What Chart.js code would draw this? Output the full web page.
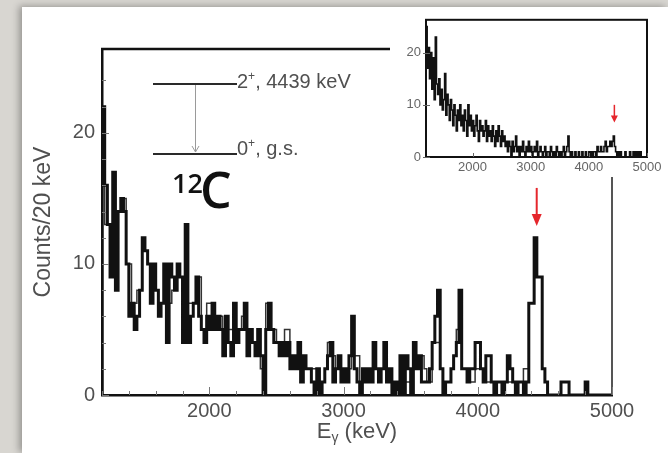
<!DOCTYPE html>
<html>
<head>
<meta charset="utf-8">
<script src="https://cdn.jsdelivr.net/npm/chart.js@4.4.0/dist/chart.umd.min.js"></script>
<style>
  html, body { margin: 0; padding: 0; }
  body { width: 668px; height: 453px; background: #d8d6d1; position: relative; overflow: hidden; }
  #slide { position: absolute; left: 22px; top: 7px; right: 0; bottom: 0; background: #fff;
           box-shadow: -3px -1px 7px rgba(0, 0, 0, 0.3); }
  #main { position: absolute; left: 0; top: 0; filter: blur(0.45px); }
  #inset { position: absolute; left: 390px; top: 7px; background: #fff; filter: blur(0.45px); }
  #nucleus { position: absolute; left: 0; top: 0; }
</style>
</head>
<body>
<div id="slide"></div>
<canvas id="main" width="668" height="453"></canvas>
<canvas id="inset" width="278" height="170"></canvas>
<svg id="nucleus" width="668" height="453">
  <g font-family="'Open Sans', sans-serif" font-weight="600" fill="#111">
    <text x="172" y="193" font-size="27">12</text>
    <text x="200" y="208" font-size="50">C</text>
  </g>
</svg>
<script>
// 20 keV bins from 1200 keV
const BIN_START = 1200;
const BIN_WIDTH = 20;

// gated spectrum (thick line)
const blackCounts = [
  22, 16, 13, 9, 17, 8, 14, 15, 14, 10,
  6, 7, 5, 6, 8, 12, 11, 10, 7, 10,
  8, 6, 7, 10, 4, 10, 9, 8, 10, 9,
  4, 13, 4, 6, 7, 9, 6, 5, 4, 6,
  5, 7, 5, 6, 5, 3, 6, 4, 3, 7,
  4, 5, 5, 7, 3, 5, 4, 3, 5, 3,
  0, 5, 7, 5, 4, 4, 3, 4, 3, 4,
  2, 3, 2, 4, 1, 3, 2, 2, 1, 0,
  2, 0, 1, 2, 3, 4, 1, 2, 3, 1,
  2, 1, 3, 6, 2, 1, 0, 2, 1, 2,
  1, 4, 2, 1, 2, 4, 1, 2, 0, 1,
  0, 3, 0, 3, 2, 0, 4, 2, 3, 1,
  1, 1, 2, 4, 6, 8, 2, 0, 1, 1,
  2, 3, 4, 8, 2, 2, 1, 2, 2, 4,
  4, 2, 1, 3, 3, 1, 0, 1, 1, 0,
  1, 3, 2, 1, 0, 1, 1, 0, 1, 7,
  7, 12, 9, 9, 2, 1, 0, 0, 0, 0,
  0, 1, 1, 1, 0, 0, 0, 0, 0, 0,
  1, 0, 0, 0, 0, 0, 0, 0, 0, 0
];

// second spectrum (thin outline)
const openCounts = [
  16, 13, 13, 13, 13, 14, 14, 15, 15, 10,
  10, 7, 7, 8, 8, 11, 11, 10, 10, 9,
  8, 7, 7, 10, 7, 7, 8, 9, 9, 9,
  8, 8, 7, 7, 7, 9, 9, 5, 5, 7,
  7, 7, 6, 6, 6, 5, 5, 5, 5, 5,
  5, 5, 6, 5, 5, 5, 4, 4, 3, 2,
  2, 7, 7, 5, 5, 4, 4, 4, 5, 5,
  3, 2, 2, 2, 3, 2, 2, 2, 2, 2,
  2, 1, 1, 2, 4, 4, 3, 2, 2, 2,
  2, 2, 2, 3, 3, 3, 1, 1, 2, 2,
  2, 2, 2, 2, 2, 2, 2, 1, 1, 0,
  0, 1, 1, 1, 1, 2, 3, 3, 3, 3,
  2, 1, 1, 4, 4, 4, 2, 1, 1, 1,
  2, 3, 5, 5, 2, 2, 2, 1, 1, 2,
  2, 2, 2, 1, 1, 1, 1, 1, 1, 1,
  1, 1, 1, 1, 1, 1, 1, 2, 2, 7,
  7, 9, 9, 9, 2, 1, 0, 0, 0, 0,
  0, 0, 0, 0, 0, 0, 0, 0, 0, 0,
  0, 0, 0, 0, 0, 0, 0, 0, 0, 0
];

// ungated spectrum shown in the inset
const insetCounts = [
  25, 17, 21, 15, 20, 13, 19, 11, 23, 14,
  12, 15, 10, 13, 9, 11, 16, 8, 12, 10,
  7, 11, 9, 6, 10, 8, 5, 9, 7, 10,
  6, 8, 5, 9, 7, 4, 10, 6, 8, 5,
  7, 4, 6, 8, 5, 3, 7, 5, 6, 4,
  5, 7, 3, 6, 4, 5, 3, 6, 4, 2,
  5, 3, 6, 4, 2, 5, 3, 4, 2, 3,
  1, 3, 2, 0, 3, 1, 2, 4, 1, 2,
  0, 2, 1, 3, 1, 0, 2, 1, 3, 1,
  2, 0, 1, 2, 1, 3, 0, 1, 2, 1,
  0, 1, 2, 0, 1, 1, 0, 2, 1, 0,
  1, 0, 2, 1, 0, 1, 0, 1, 2, 0,
  1, 2, 4, 1, 0, 1, 0, 0, 1, 0,
  0, 1, 0, 0, 1, 0, 0, 1, 0, 0,
  1, 0, 1, 0, 1, 1, 0, 2, 1, 1,
  2, 1, 1, 2, 3, 1, 2, 2, 3, 2,
  3, 4, 2, 1, 0, 1, 0, 1, 0, 0,
  0, 1, 0, 0, 0, 1, 0, 0, 1, 0,
  1, 0, 1, 0, 1, 0, 0, 0, 0, 0
];

const xTickLabels = [2000, 3000, 4000, 5000];
const yTickLabels = [0, 10, 20];
const insetYTickLabels = [0, 10, 20];
const PEAK_ENERGY = 4439;

const AXIS_FONT = "'Liberation Sans', Arial, Helvetica, sans-serif";
const TEXT_GREY = '#505050';

// bin contents -> step points; the leading zero draws the left wall,
// the extra trailing point closes the last bin
function histPoints(counts) {
  const pts = [{ x: BIN_START, y: 0 }];
  counts.forEach((c, i) => pts.push({ x: BIN_START + i * BIN_WIDTH, y: c }));
  pts.push({ x: BIN_START + counts.length * BIN_WIDTH, y: counts[counts.length - 1] });
  return pts;
}

function drawArrow(ctx, x, y0, y1, half, head, width) {
  ctx.strokeStyle = '#e5262c';
  ctx.fillStyle = '#e5262c';
  ctx.lineWidth = width;
  ctx.beginPath();
  ctx.moveTo(x, y0);
  ctx.lineTo(x, y1 - head + 1);
  ctx.stroke();
  ctx.beginPath();
  ctx.moveTo(x - half, y1 - head);
  ctx.lineTo(x + half, y1 - head);
  ctx.lineTo(x, y1);
  ctx.closePath();
  ctx.fill();
}

// level label with a superscript parity sign
function drawLevel(ctx, x, y, spin, rest) {
  ctx.font = '20px ' + AXIS_FONT;
  ctx.fillStyle = TEXT_GREY;
  ctx.textBaseline = 'alphabetic';
  ctx.textAlign = 'left';
  ctx.fillText(spin, x, y);
  let cx = x + ctx.measureText(spin).width;
  ctx.font = '12px ' + AXIS_FONT;
  ctx.fillText('+', cx, y - 8);
  cx += ctx.measureText('+').width;
  ctx.font = '20px ' + AXIS_FONT;
  ctx.fillText(rest, cx, y);
}

const mainDecor = {
  id: 'mainDecor',
  afterDraw(chart) {
    const ctx = chart.ctx;
    const { left, right, top, bottom } = chart.chartArea;
    const xs = chart.scales.x;
    const ys = chart.scales.y;
    ctx.save();

    // top and right frame
    ctx.strokeStyle = '#111';
    ctx.lineWidth = 2.5;
    ctx.beginPath();
    ctx.moveTo(left - 1, top);
    ctx.lineTo(right, top);
    ctx.stroke();
    ctx.strokeStyle = '#555';
    ctx.lineWidth = 2;
    ctx.beginPath();
    ctx.moveTo(right, top);
    ctx.lineTo(right, bottom);
    ctx.stroke();

    // inward tick marks
    ctx.strokeStyle = '#777';
    ctx.lineWidth = 1;
    ys.ticks.forEach(t => {
      if (t.value % 2 !== 0) return;
      const y = Math.round(ys.getPixelForValue(t.value)) + 0.5;
      const len = t.value % 10 === 0 ? 7 : 4;
      ctx.beginPath();
      ctx.moveTo(left, y);
      ctx.lineTo(left + len, y);
      ctx.stroke();
    });
    xs.ticks.forEach(t => {
      if (t.value % 200 !== 0) return;
      const x = Math.round(xs.getPixelForValue(t.value)) + 0.5;
      const len = t.value % 1000 === 0 ? 8 : 4;
      ctx.beginPath();
      ctx.moveTo(x, bottom);
      ctx.lineTo(x, bottom - len);
      ctx.stroke();
    });

    // axis titles
    ctx.fillStyle = TEXT_GREY;
    ctx.save();
    ctx.translate(50, (top + bottom) / 2);
    ctx.rotate(-Math.PI / 2);
    ctx.font = '23px ' + AXIS_FONT;
    ctx.textAlign = 'center';
    ctx.textBaseline = 'alphabetic';
    ctx.fillText('Counts/20 keV', 0, 0);
    ctx.restore();

    ctx.textAlign = 'left';
    ctx.textBaseline = 'alphabetic';
    ctx.font = '22px ' + AXIS_FONT;
    const wE = ctx.measureText('E').width;
    const wRest = ctx.measureText(' (keV)').width;
    ctx.font = '14px ' + AXIS_FONT;
    const wG = ctx.measureText('γ').width;
    let tx = (left + right) / 2 - (wE + wG + wRest) / 2;
    const ty = 438;
    ctx.font = '22px ' + AXIS_FONT;
    ctx.fillText('E', tx, ty);
    tx += wE;
    ctx.font = '14px ' + AXIS_FONT;
    ctx.fillText('γ', tx, ty + 4);
    tx += wG;
    ctx.font = '22px ' + AXIS_FONT;
    ctx.fillText(' (keV)', tx, ty);

    // level scheme: 2+ -> 0+ transition
    ctx.strokeStyle = '#2a2a2a';
    ctx.lineWidth = 2;
    ctx.beginPath();
    ctx.moveTo(153, 84); ctx.lineTo(237, 84);
    ctx.moveTo(153, 154); ctx.lineTo(237, 154);
    ctx.stroke();
    ctx.strokeStyle = '#9a9a9a';
    ctx.lineWidth = 1;
    ctx.beginPath();
    ctx.moveTo(195.5, 85); ctx.lineTo(195.5, 152);
    ctx.moveTo(192, 146); ctx.lineTo(195.5, 152); ctx.lineTo(199, 146);
    ctx.stroke();
    drawLevel(ctx, 237, 88, '2', ', 4439 keV');
    drawLevel(ctx, 237, 155, '0', ', g.s.');

    // marker above the 4439 keV peak
    const ax = xs.getPixelForValue(PEAK_ENERGY);
    drawArrow(ctx, ax, ys.getPixelForValue(15.8), ys.getPixelForValue(12.9), 5, 12, 2);

    ctx.restore();
  }
};

const insetDecor = {
  id: 'insetDecor',
  afterDraw(chart) {
    const ctx = chart.ctx;
    const { left, right, top, bottom } = chart.chartArea;
    const xs = chart.scales.x;
    const ys = chart.scales.y;
    ctx.save();
    ctx.strokeStyle = '#111';
    ctx.lineWidth = 2;
    ctx.strokeRect(left, top, right - left, bottom - top);
    ctx.strokeStyle = '#666';
    ctx.lineWidth = 1;
    insetYTickLabels.forEach(v => {
      const y = Math.round(ys.getPixelForValue(v)) + 0.5;
      ctx.beginPath();
      ctx.moveTo(left - 3, y);
      ctx.lineTo(left + 4, y);
      ctx.stroke();
    });
    xTickLabels.forEach(v => {
      const x = Math.round(xs.getPixelForValue(v)) + 0.5;
      ctx.beginPath();
      ctx.moveTo(x, bottom);
      ctx.lineTo(x, bottom - 4);
      ctx.stroke();
    });
    const ax = xs.getPixelForValue(PEAK_ENERGY);
    drawArrow(ctx, ax, ys.getPixelForValue(10), ys.getPixelForValue(6.6), 3.5, 7, 1.5);
    ctx.restore();
  }
};

// stepped: 'before' holds each bin value until the next bin edge
new Chart(document.getElementById('main'), {
  type: 'line',
  data: {
    datasets: [
      {
        data: histPoints(blackCounts),
        stepped: 'before',
        borderColor: '#111',
        borderWidth: 3,
        pointRadius: 0,
        fill: false
      },
      {
        data: histPoints(openCounts),
        stepped: 'before',
        borderColor: '#333',
        borderWidth: 1.5,
        pointRadius: 0,
        fill: false
      }
    ]
  },
  options: {
    responsive: false,
    animation: false,
    events: [],
    layout: { padding: { left: 22, top: 49, right: 56, bottom: 0 } },
    plugins: { legend: { display: false }, tooltip: { enabled: false } },
    scales: {
      x: {
        type: 'linear',
        min: BIN_START,
        max: 5000,
        afterFit(scale) { scale.height = 58; },
        grid: { display: false, drawTicks: false },
        border: { display: true, color: '#111', width: 2.5 },
        ticks: {
          stepSize: 200,
          autoSkip: false,
          maxRotation: 0,
          minRotation: 0,
          padding: 4,
          color: TEXT_GREY,
          font: { family: AXIS_FONT, size: 20 },
          callback: v => (xTickLabels.includes(v) ? String(v) : '')
        }
      },
      y: {
        min: 0,
        max: 26.4,
        afterFit(scale) { scale.width = 80; },
        grid: { display: false, drawTicks: false },
        border: { display: true, color: '#111', width: 2.5 },
        ticks: {
          stepSize: 2,
          autoSkip: false,
          padding: 7,
          color: TEXT_GREY,
          font: { family: AXIS_FONT, size: 20 },
          callback: v => (yTickLabels.includes(v) ? String(v) : '')
        }
      }
    }
  },
  plugins: [mainDecor]
});

new Chart(document.getElementById('inset'), {
  type: 'line',
  data: {
    datasets: [{
      data: histPoints(insetCounts),
      stepped: 'before',
      borderColor: '#111',
      borderWidth: 1.6,
      pointRadius: 0,
      fill: false
    }]
  },
  options: {
    responsive: false,
    animation: false,
    events: [],
    layout: { padding: { left: 0, top: 8, right: 21, bottom: 0 } },
    plugins: { legend: { display: false }, tooltip: { enabled: false } },
    scales: {
      x: {
        type: 'linear',
        min: BIN_START,
        max: 5000,
        afterFit(scale) { scale.height = 20; },
        grid: { display: false, drawTicks: false },
        border: { display: false },
        ticks: {
          stepSize: 200,
          autoSkip: false,
          maxRotation: 0,
          minRotation: 0,
          padding: 3,
          color: '#666',
          font: { family: AXIS_FONT, size: 13 },
          callback: v => (xTickLabels.includes(v) ? String(v) : '')
        }
      },
      y: {
        min: 0,
        max: 26.3,
        afterFit(scale) { scale.width = 36; },
        grid: { display: false, drawTicks: false },
        border: { display: false },
        ticks: {
          stepSize: 10,
          autoSkip: false,
          padding: 5,
          color: '#666',
          font: { family: AXIS_FONT, size: 13 },
          callback: v => (insetYTickLabels.includes(v) ? String(v) : '')
        }
      }
    }
  },
  plugins: [insetDecor]
});
</script>
</body>
</html>
